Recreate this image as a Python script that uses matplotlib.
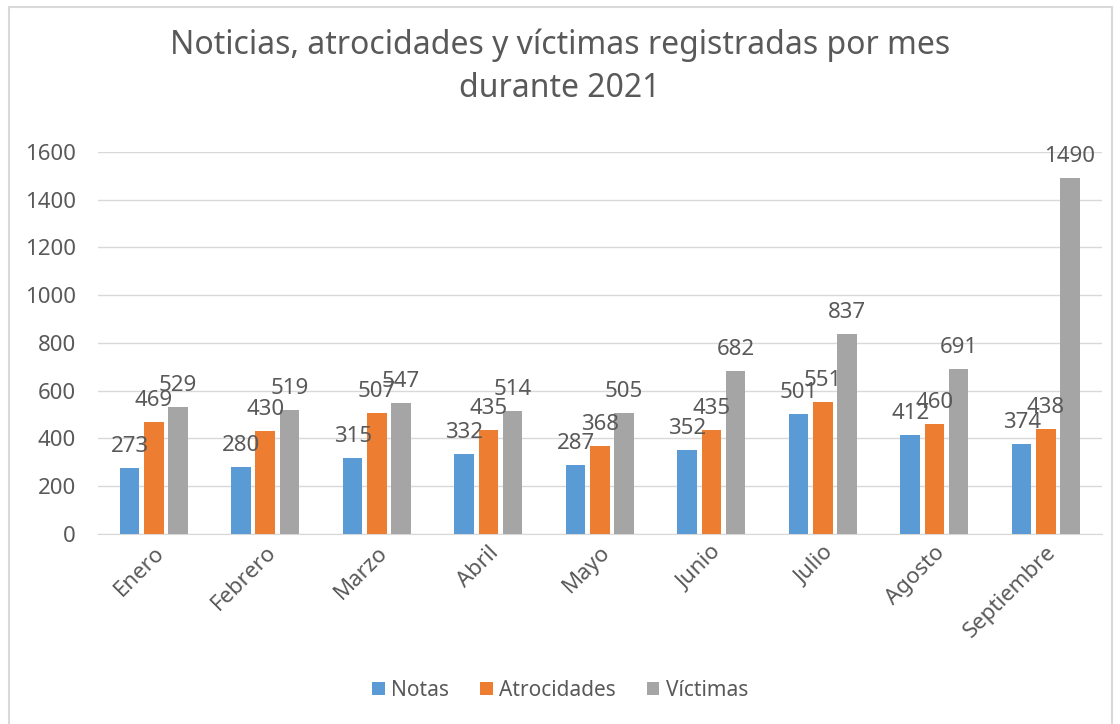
import numpy as np
import matplotlib.pyplot as plt
from matplotlib.patches import Rectangle

# datos
meses = ['Enero', 'Febrero', 'Marzo', 'Abril', 'Mayo', 'Junio', 'Julio', 'Agosto', 'Septiembre']
notas = [273, 280, 315, 332, 287, 352, 501, 412, 374]
atrocidades = [469, 430, 507, 435, 368, 435, 551, 460, 438]
victimas = [529, 519, 547, 514, 505, 682, 837, 691, 1490]

series = [('Notas', notas, '#5B9BD5'),
          ('Atrocidades', atrocidades, '#ED7D31'),
          ('Víctimas', victimas, '#A5A5A5')]

plt.rcParams['font.family'] = ['Noto Sans', 'DejaVu Sans']
txt = '#595959'

fig = plt.figure(figsize=(11.2, 7.24), dpi=100)
ax = fig.add_axes([0.0875, 0.263, 0.896, 0.527])

# borde del area del grafico
fig.patches.append(Rectangle((9 / 1120, -0.01), 1103 / 1120, 1 - 7 / 724 + 0.01,
                             transform=fig.transFigure, fill=False,
                             edgecolor='#D9D9D9', linewidth=1.5))

x = np.arange(len(meses))
ancho = 0.175
paso = 0.216
for i, (nombre, valores, color) in enumerate(series):
    pos = x + (i - 1) * paso
    ax.bar(pos, valores, ancho, color=color, label=nombre, zorder=3)
    for p, v in zip(pos, valores):
        ax.annotate(str(v), (p, v), xytext=(0, 8), textcoords='offset points',
                    ha='center', va='bottom', fontsize=16, color=txt, zorder=4)

ax.set_xlim(-0.5, len(meses) - 0.5)
ax.set_ylim(0, 1600)
ax.set_yticks(range(0, 1601, 200))
ax.set_xticks(x)
ax.set_xticklabels(meses, rotation=45, ha='right', rotation_mode='anchor')
ax.tick_params(axis='both', length=0, labelsize=16, labelcolor=txt)
ax.tick_params(axis='y', pad=16)
ax.tick_params(axis='x', pad=6)
ax.grid(axis='y', color='#D9D9D9', linewidth=1, zorder=0)
for s in ['top', 'right', 'left']:
    ax.spines[s].set_visible(False)
ax.spines['bottom'].set_color('#D9D9D9')

fig.suptitle('Noticias, atrocidades y víctimas registradas por mes\ndurante 2021',
             y=0.96, fontsize=23, color=txt, linespacing=1.4)

fig.legend(loc='center', bbox_to_anchor=(0.5, 0.046), ncol=3, frameon=False,
           fontsize=15, labelcolor=txt, handlelength=0.6, handleheight=0.6,
           handletextpad=0.3, columnspacing=1.5)

fig.savefig('out.png', dpi=100, facecolor='white')
